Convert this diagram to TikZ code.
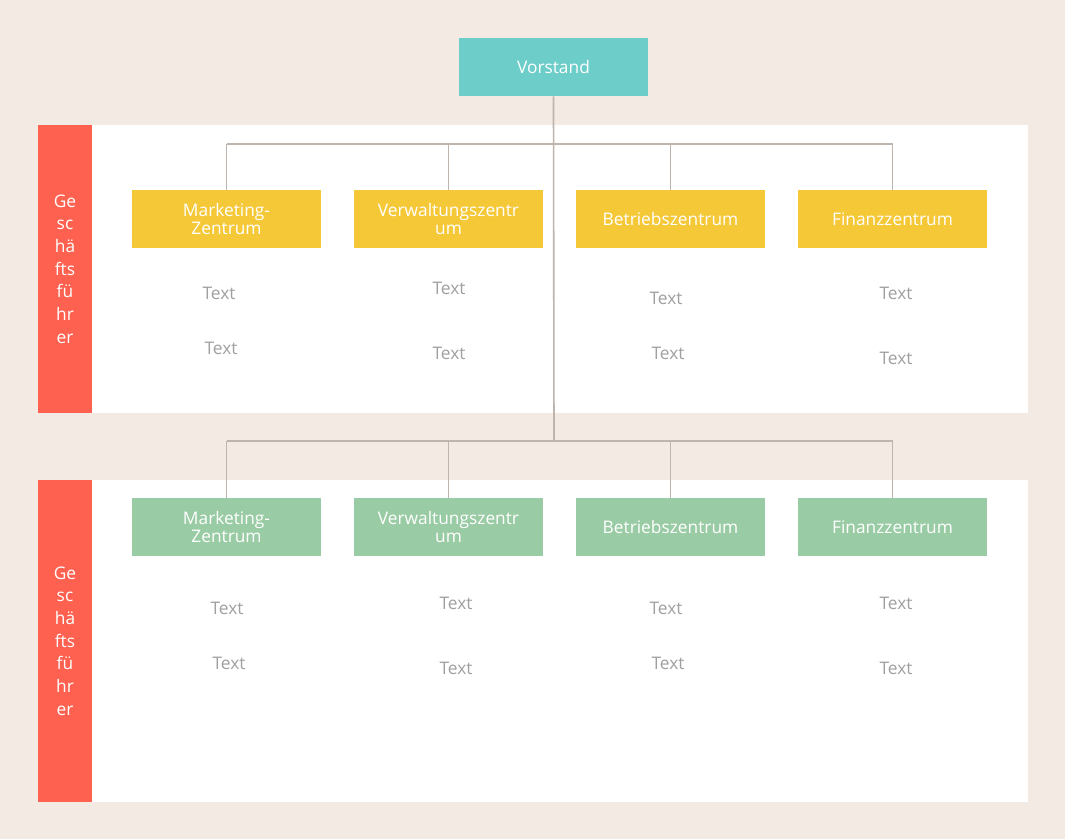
\documentclass[tikz,border=0pt]{standalone}
\usepackage{fontspec}
\setmainfont{Open Sans}
\begin{document}
\definecolor{bg}{HTML}{F3EAE4}
\definecolor{teal}{HTML}{6CCDC9}
\definecolor{yel}{HTML}{F5C838}
\definecolor{grn}{HTML}{99CBA4}
\definecolor{redb}{HTML}{FF6150}
\definecolor{ln}{HTML}{BDB5AE}
\definecolor{tx}{HTML}{A0A0A0}
\begin{tikzpicture}[x=0.75pt,y=-0.75pt,
 box/.style={minimum width=141.75pt,minimum height=43.5pt,inner sep=0pt,text=white,font=\fontsize{13}{14}\selectfont,align=center,text width=140pt},
 lbl/.style={text=tx,font=\fontsize{13}{14}\selectfont},
 side/.style={text=white,font=\fontsize{13}{17}\selectfont,align=center},
 con/.style={draw=ln,line width=1.2pt}]
\fill[bg] (0,0) rectangle (1065,839);
\useasboundingbox (0,0) rectangle (1065,839);
\fill[white] (92,125) rectangle (1028,413);
\fill[white] (92,480) rectangle (1028,802);
\fill[redb] (38,125) rectangle (92,413);
\fill[redb] (38,480) rectangle (92,802);
\node[side] (s1) at (65,269) {Ge\\sc\\hä\\fts\\fü\\hr\\er};
\node[side] (s2) at (65,641) {Ge\\sc\\hä\\fts\\fü\\hr\\er};
\node[box,fill=teal] (v) at (553.5,67) {Vorstand};
\coordinate (j1) at (554,144);
\coordinate (j2) at (554,441);
\foreach \x/\n/\t [count=\i] in {226.5/a/{Marketing-\\Zentrum},448.5/b/{Verwaltungszentr\\um},670.5/c/Betriebszentrum,892.5/d/Finanzzentrum}{
 \node[box,fill=yel] (y\n) at (\x,219) {\t};
 \node[box,fill=grn] (g\n) at (\x,527) {\t};
 \coordinate (ty\n) at (\x,144);
 \coordinate (tg\n) at (\x,441);
 \draw[con] (ty\n) -- (y\n.north);
 \draw[con] (tg\n) -- (g\n.north);
}
\draw[con] (tya) -- (tyd);
\draw[con] (tga) -- (tgd);
\draw[con] (v.south) -- (j2);
\foreach \x/\y [count=\i] in {219/293,221/348,449/288,449/353,666/298,668/353,896/293,896/358,227/608,229/663,456/603,456/668,666/608,668/663,896/603,896/668}
 \node[lbl] (t\i) at (\x,\y) {Text};
\end{tikzpicture}
\end{document}
